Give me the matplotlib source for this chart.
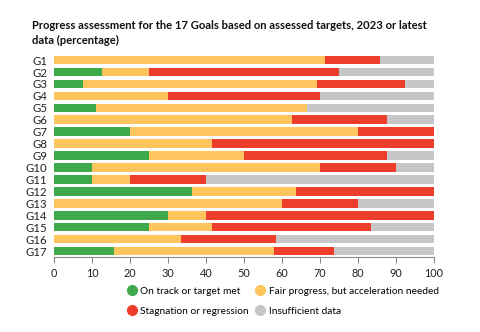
import numpy as np
import matplotlib
matplotlib.use("Agg")
import matplotlib.pyplot as plt
from matplotlib.lines import Line2D

plt.rcParams['font.family'] = ['Lato', 'DejaVu Sans']

goals = ["G%d" % i for i in range(1, 18)]
on_track = [0, 12.5, 7.7, 0, 11.1, 0, 20, 0, 25, 10, 10, 36.4, 0, 30, 25, 0, 15.8]
fair = [71.4, 12.5, 61.5, 30, 55.6, 62.5, 60, 41.7, 25, 60, 10, 27.3, 60, 10, 16.7, 33.3, 42.1]
stagnation = [14.3, 50, 23.1, 40, 0, 25, 20, 58.3, 37.5, 20, 20, 36.3, 20, 60, 41.7, 25, 15.8]
insufficient = [14.3, 25, 7.7, 30, 33.3, 12.5, 0, 0, 12.5, 10, 60, 0, 20, 0, 16.6, 41.7, 26.3]

labels = ["On track or target met", "Fair progress, but acceleration needed",
          "Stagnation or regression", "Insufficient data"]
colors = ["#3da94a", "#fec45e", "#ee3e2b", "#c6c6c8"]

fig = plt.figure(figsize=(4.8, 3.32), dpi=100)
ax = fig.add_axes([0.1125, 0.226, 0.7917, 0.611])

y = np.arange(len(goals))
left = np.zeros(len(goals))
for vals, c in zip([on_track, fair, stagnation, insufficient], colors):
    ax.barh(y, vals, left=left, height=0.72, color=c, linewidth=0)
    left += np.array(vals)

ax.set_xlim(0, 100)
ax.set_ylim(16.5, -0.5)
ax.set_yticks(y)
ax.set_yticklabels(goals, fontsize=8.2, color="#222222")
ax.set_xticks(range(0, 101, 10))
ax.tick_params(axis='y', length=0, pad=5)
ax.tick_params(axis='x', length=4, color="#888888", labelsize=7.8, labelcolor="#222222", pad=4)
for s in ['top', 'right', 'left']:
    ax.spines[s].set_visible(False)
ax.spines['bottom'].set_color("#888888")
ax.spines['bottom'].set_linewidth(0.8)

fig.text(0.067, 0.94, "Progress assessment for the 17 Goals based on assessed targets, 2023 or latest\ndata (percentage)",
         fontsize=8.1, fontweight='bold', va='top', ha='left', linespacing=1.4, color="#111111")

order = [0, 2, 1, 3]
handles = [Line2D([], [], marker='o', linestyle='', markersize=7, color=colors[i]) for i in order]
fig.legend(handles, [labels[i] for i in order], ncol=2, loc='upper left',
           bbox_to_anchor=(0.255, 0.148), frameon=False, fontsize=7.3,
           handletextpad=0.35, columnspacing=0.6, labelspacing=1.05, borderaxespad=0,
           handlelength=1.0)

fig.savefig("out.png", dpi=100, facecolor="white")
